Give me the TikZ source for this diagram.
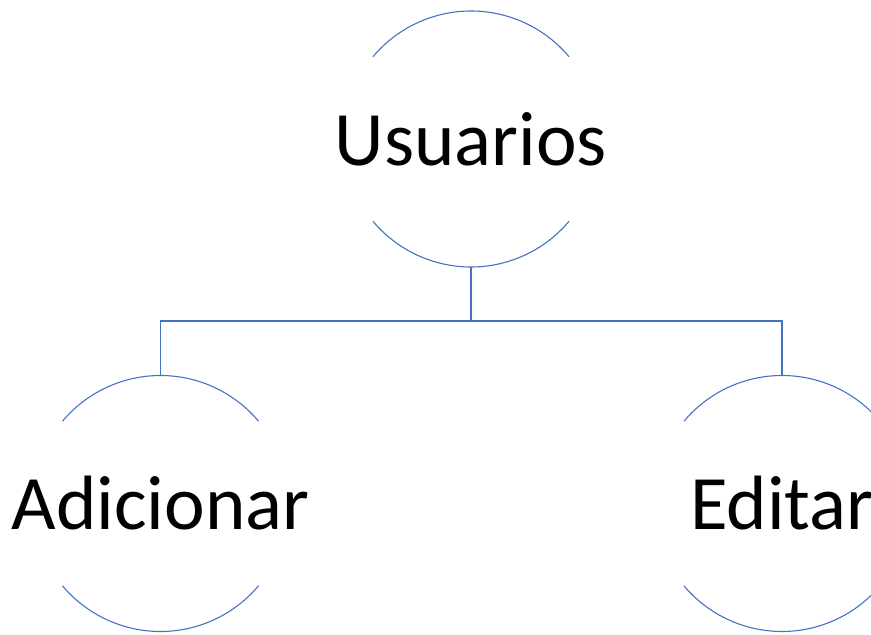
\documentclass[tikz,border=0pt]{standalone}
\usepackage{fontspec}
\setmainfont{Carlito}
\usetikzlibrary{positioning, calc}

\definecolor{ringblue}{HTML}{4472C4}
\newcommand{\ringarcs}[1]{%
  \draw[ringline] ([shift={(40:128)}]#1.center) arc[start angle=40, end angle=140, radius=128];
  \draw[ringline] ([shift={(220:128)}]#1.center) arc[start angle=220, end angle=320, radius=128];
  \coordinate (#1-top) at ([yshift=128pt]#1.center);
  \coordinate (#1-bot) at ([yshift=-128pt]#1.center);}

\begin{document}
\begin{tikzpicture}[x=1pt, y=1pt,
 ring/.style={inner sep=0pt, font=\fontsize{77}{90}\selectfont},
 ringline/.style={draw=ringblue, line width=1.1pt},
 link/.style={draw=ringblue, line width=1.1pt}]
\useasboundingbox (0,0) rectangle (871,635);
\clip (0,0) rectangle (871,635);
\node[ring] (usr) at (471,496) {Usuarios};
\node[ring] (add) at (160.5,131.5) {Adicionar};
\node[ring] (edt) at (782,131.5) {Editar};
\ringarcs{usr}
\ringarcs{add}
\ringarcs{edt}
\draw[link] (usr-bot) -- ++(0,-54) coordinate (bus);
\draw[link] (add-top) |- (bus) -| (edt-top);
\end{tikzpicture}
\end{document}
